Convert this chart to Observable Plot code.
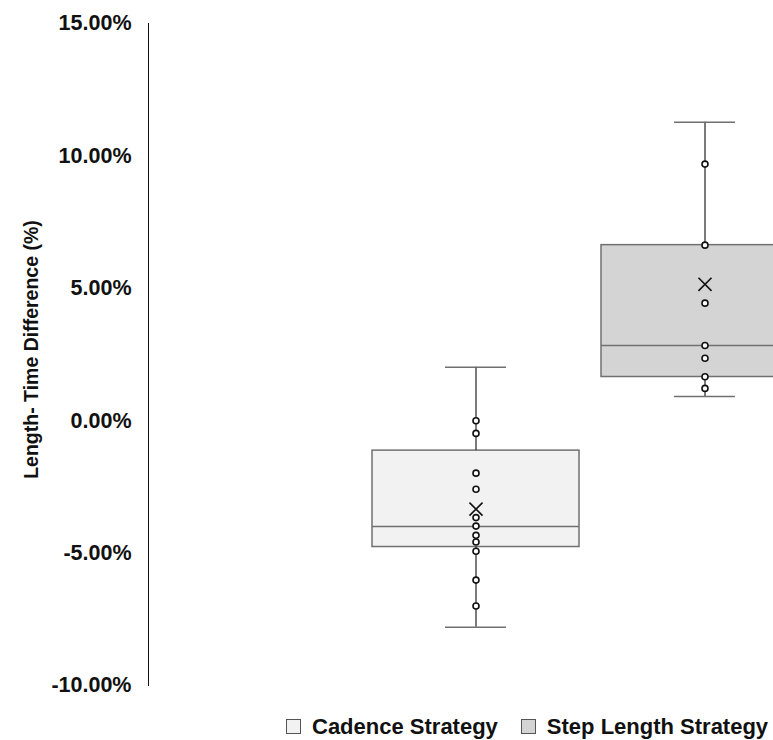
<!DOCTYPE html>
<html>
<head>
<meta charset="utf-8">
<script src="https://cdn.jsdelivr.net/npm/d3@7"></script>
<script src="https://cdn.jsdelivr.net/npm/@observablehq/plot@0.6"></script>
<style>
  html, body { margin: 0; padding: 0; background: #fff; overflow: hidden; }
  #wrap { position: relative; width: 773px; height: 740px; overflow: hidden; }
  #wrap svg { overflow: hidden; display: block; }
  #legend {
    position: absolute; top: 716px; left: 286px;
    display: flex; align-items: center; white-space: nowrap;
    font-family: "Liberation Sans", Arial, sans-serif; font-weight: bold;
    font-size: 22px; line-height: 21px; color: #111;
  }
  .sw { width: 13px; height: 13px; border: 1px solid #555; margin-right: 11px; flex: none; }
  .item { display: flex; align-items: center; margin-right: 23px; }
</style>
</head>
<body>
<div id="wrap"></div>
<script>
// ---- data ----
const categories = ["Cadence Strategy", "Step Length Strategy"];
const whiskerLow = [-7.8, 0.91];
const q1 = [-4.77, 1.65];
const median = [-4.0, 2.84];
const q3 = [-1.13, 6.63];
const whiskerHigh = [2.02, 11.27];
const mean = [-3.34, 5.15];
const cadencePoints = [0, -0.48, -1.98, -2.59, -3.66, -3.98, -4.33, -4.58, -4.93, -6.02, -7.0];
const stepPoints = [9.69, 6.63, 4.44, 2.84, 2.36, 1.66, 1.22];
const fills = ["#f2f2f2", "#d4d4d4"];
const yTicks = [-10, -5, 0, 5, 10, 15];
const yTitle = "Length- Time Difference (%)";

const boxes = categories.map((c, i) => ({
  category: c, low: whiskerLow[i], q1: q1[i], median: median[i],
  q3: q3[i], high: whiskerHigh[i], mean: mean[i]
}));
const points = [
  ...cadencePoints.map(v => ({category: categories[0], value: v})),
  ...stepPoints.map(v => ({category: categories[1], value: v}))
];

const plot = Plot.plot({
  width: 773,
  height: 700,
  marginLeft: 148,
  marginRight: 0,
  marginTop: 23,
  marginBottom: 15,
  style: {fontFamily: "'Liberation Sans', Arial, sans-serif", fontSize: "21.5px", fontWeight: "bold", color: "#111", background: "#fff"},
  x: {type: "band", domain: categories, range: [372, 808.3], paddingInner: 0.0973, paddingOuter: 0, axis: null},
  y: {domain: [-10, 15], ticks: yTicks, tickFormat: d => d.toFixed(2) + "%", tickSize: 0, tickPadding: 17, label: null, line: true},
  color: {domain: categories, range: fills},
  marks: [
    Plot.barY(boxes, {x: "category", y1: "q1", y2: "q3", fill: "category", stroke: "#707070", strokeWidth: 1.5, clip: true}),
    Plot.ruleX(boxes, {x: "category", y1: "low", y2: "q1", stroke: "#222", strokeWidth: 1.2}),
    Plot.ruleX(boxes, {x: "category", y1: "q3", y2: "high", stroke: "#222", strokeWidth: 1.2}),
    Plot.tickY(boxes, {x: "category", y: "low", stroke: "#707070", strokeWidth: 1.5, insetLeft: 73, insetRight: 73}),
    Plot.tickY(boxes, {x: "category", y: "high", stroke: "#707070", strokeWidth: 1.5, insetLeft: 73, insetRight: 73}),
    Plot.tickY(boxes, {x: "category", y: "median", stroke: "#707070", strokeWidth: 1.5, clip: true}),
    Plot.dot(points, {x: "category", y: "value", r: 3, fill: "white", stroke: "#111", strokeWidth: 1.6}),
    Plot.dot(boxes, {x: "category", y: "mean", symbol: "times", r: 6, stroke: "#111", strokeWidth: 1.6}),
    Plot.text([yTitle], {text: d => d, frameAnchor: "left", rotate: -90, dx: -117, dy: -5, fontSize: 19.5, fontWeight: "bold", textAnchor: "middle", lineAnchor: "middle", fill: "#111"})
  ]
});

const wrap = document.getElementById("wrap");
wrap.appendChild(plot);

const legend = document.createElement("div");
legend.id = "legend";
categories.forEach((c, i) => {
  const item = document.createElement("div");
  item.className = "item";
  const sw = document.createElement("span");
  sw.className = "sw";
  sw.style.background = fills[i];
  const label = document.createElement("span");
  label.textContent = c;
  item.appendChild(sw);
  item.appendChild(label);
  legend.appendChild(item);
});
wrap.appendChild(legend);
</script>
</body>
</html>
